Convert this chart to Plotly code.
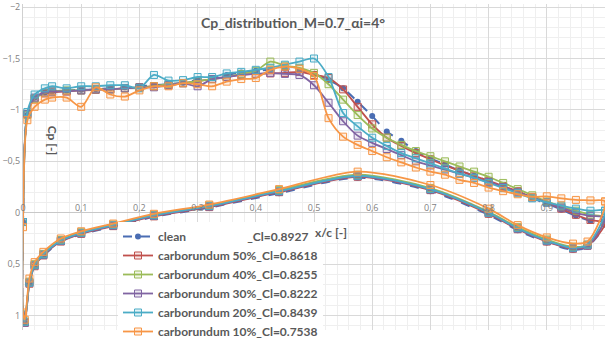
import plotly.graph_objects as go

# ---------------- data ----------------
title = "Cp_distribution_M=0.7_\u03b1i=4\u00b0"

x_upper = [0.0, 0.0075, 0.02, 0.0375, 0.05, 0.075, 0.1, 0.125, 0.15, 0.175, 0.2, 0.225,
           0.25, 0.275, 0.3, 0.325, 0.35, 0.375, 0.4, 0.425, 0.45, 0.475, 0.5, 0.525,
           0.55, 0.575, 0.6, 0.625, 0.65, 0.675, 0.7, 0.725, 0.75, 0.775, 0.8, 0.825,
           0.85, 0.875, 0.9, 0.925, 0.95, 0.975, 1.0]
x_lower = [0.0, 0.003, 0.011, 0.02, 0.035, 0.065, 0.1, 0.155, 0.225, 0.32, 0.44, 0.575,
           0.7, 0.8, 0.85, 0.9, 0.945, 0.97, 1.0]

names = ["clean                     _Cl=0.8927",
         "carborundum 50%_Cl=0.8618",
         "carborundum 40%_Cl=0.8255",
         "carborundum 30%_Cl=0.8222",
         "carborundum 20%_Cl=0.8439",
         "carborundum 10%_Cl=0.7538"]

cp_upper_clean = [0.09, -0.95, -1.12, -1.17, -1.18, -1.19, -1.195, -1.20, -1.21, -1.22, -1.23, -1.24,
                  -1.25, -1.265, -1.29, -1.31, -1.34, -1.365, -1.38, -1.39, -1.40, -1.38, -1.35, -1.29,
                  -1.21, -1.08, -0.94, -0.79, -0.70, -0.60, -0.53, -0.47, -0.41, -0.36, -0.31, -0.26,
                  -0.20, -0.14, -0.09, -0.03, 0.03, 0.08, 0.10]
cp_upper_50 = [0.09, -0.96, -1.11, -1.16, -1.17, -1.18, -1.19, -1.195, -1.20, -1.21, -1.22, -1.23,
               -1.24, -1.26, -1.28, -1.30, -1.32, -1.34, -1.35, -1.355, -1.36, -1.37, -1.34, -1.31,
               -1.20, -1.03, -0.86, -0.73, -0.65, -0.58, -0.52, -0.46, -0.41, -0.36, -0.31, -0.26,
               -0.21, -0.15, -0.10, -0.04, 0.02, 0.07, 0.10]
cp_upper_40 = [0.09, -0.95, -1.11, -1.165, -1.18, -1.19, -1.19, -1.20, -1.20, -1.21, -1.22, -1.23,
               -1.25, -1.26, -1.28, -1.30, -1.32, -1.35, -1.38, -1.47, -1.43, -1.41, -1.36, -1.25,
               -1.10, -0.95, -0.82, -0.73, -0.66, -0.60, -0.55, -0.50, -0.45, -0.40, -0.35, -0.29,
               -0.23, -0.17, -0.11, -0.06, -0.02, 0.02, 0.05]
cp_upper_30 = [0.09, -0.96, -1.12, -1.17, -1.18, -1.18, -1.19, -1.20, -1.20, -1.21, -1.22, -1.22,
               -1.24, -1.26, -1.23, -1.30, -1.32, -1.34, -1.35, -1.36, -1.35, -1.34, -1.24, -1.07,
               -0.89, -0.75, -0.68, -0.62, -0.56, -0.50, -0.46, -0.42, -0.38, -0.34, -0.30, -0.25,
               -0.20, -0.15, -0.10, -0.05, 0.0, 0.03, 0.05]
cp_upper_20 = [0.09, -0.98, -1.15, -1.21, -1.23, -1.21, -1.23, -1.23, -1.24, -1.24, -1.21, -1.34,
               -1.285, -1.29, -1.32, -1.32, -1.355, -1.37, -1.39, -1.41, -1.44, -1.47, -1.50, -1.32,
               -0.97, -0.84, -0.73, -0.65, -0.58, -0.53, -0.48, -0.43, -0.38, -0.34, -0.29, -0.24,
               -0.19, -0.14, -0.10, -0.07, -0.04, -0.02, -0.02]
cp_upper_10 = [0.14, -0.90, -1.03, -1.10, -1.12, -1.12, -1.03, -1.22, -1.15, -1.13, -1.19, -1.23,
               -1.23, -1.26, -1.25, -1.23, -1.275, -1.30, -1.31, -1.39, -1.42, -1.40, -1.33, -0.92,
               -0.74, -0.66, -0.60, -0.54, -0.49, -0.44, -0.40, -0.37, -0.32, -0.29, -0.245, -0.21,
               -0.18, -0.155, -0.16, -0.14, -0.125, -0.12, -0.11]

cp_lower_clean = [1.0, 1.07, 0.69, 0.52, 0.42, 0.28, 0.21, 0.135, 0.04, -0.05, -0.19, -0.34,
                  -0.21, 0.02, 0.17, 0.29, 0.36, 0.33, 0.10]
cp_lower_50 = [1.0, 1.07, 0.69, 0.52, 0.415, 0.28, 0.205, 0.13, 0.035, -0.055, -0.20, -0.35,
               -0.22, 0.01, 0.16, 0.28, 0.35, 0.32, 0.10]
cp_lower_40 = [0.99, 1.06, 0.67, 0.50, 0.40, 0.265, 0.19, 0.115, 0.02, -0.07, -0.22, -0.37,
               -0.24, -0.01, 0.14, 0.26, 0.33, 0.31, 0.05]
cp_lower_30 = [1.0, 1.07, 0.68, 0.51, 0.41, 0.275, 0.20, 0.125, 0.03, -0.06, -0.205, -0.355,
               -0.225, 0.0, 0.155, 0.275, 0.345, 0.32, 0.05]
cp_lower_20 = [0.99, 1.06, 0.68, 0.51, 0.405, 0.27, 0.195, 0.12, 0.025, -0.065, -0.21, -0.36,
               -0.23, 0.0, 0.15, 0.27, 0.34, 0.31, -0.02]
cp_lower_10 = [0.97, 1.04, 0.64, 0.48, 0.38, 0.25, 0.18, 0.105, 0.01, -0.08, -0.23, -0.40,
               -0.27, -0.04, 0.12, 0.24, 0.30, 0.28, -0.11]

upper_sets = [cp_upper_clean, cp_upper_50, cp_upper_40, cp_upper_30, cp_upper_20, cp_upper_10]
lower_sets = [cp_lower_clean, cp_lower_50, cp_lower_40, cp_lower_30, cp_lower_20, cp_lower_10]

colors = ["#4A6DB3", "#C0504D", "#9BBB59", "#8064A2", "#4BACC6", "#F79646"]
fills = ["#4A6DB3", "rgba(192,80,77,0.15)", "rgba(155,187,89,0.15)", "rgba(128,100,162,0.15)",
         "rgba(75,172,198,0.15)", "rgba(247,150,70,0.15)"]

# ---------------- figure ----------------
fig = go.Figure()
for i in range(6):
    xs = list(reversed(x_upper)) + x_lower
    ys = list(reversed(upper_sets[i])) + lower_sets[i]
    if i == 0:
        line = dict(color=colors[i], width=2, dash="dash", shape="spline", smoothing=0.8)
        marker = dict(symbol="circle", size=6, color=colors[i])
    else:
        line = dict(color=colors[i], width=1.8, shape="spline", smoothing=0.8)
        marker = dict(symbol="square", size=7, color=fills[i],
                      line=dict(color=colors[i], width=1))
    fig.add_trace(go.Scatter(x=xs, y=ys, mode="lines+markers",
                             name=names[i].replace(" ", "\u00a0"),
                             line=line, marker=marker))

grid_major = "#D9D9D9"
grid_minor = "#EFEFEF"
tick_font = dict(family="Open Sans", size=9, color="#7F7F7F")

Y_TOP, Y_BOT = -2.03, 1.14
plot_h = 340 - 4 - 10

fig.update_layout(
    width=605, height=340,
    margin=dict(l=23, r=0, t=4, b=10, autoexpand=False),
    paper_bgcolor="white", plot_bgcolor="white",
    separators=", ",
    showlegend=True,
    legend=dict(x=(118 - 23) / 582, y=-(346 - 330) / plot_h, xanchor="left", yanchor="bottom",
                bgcolor="white", borderwidth=0,
                font=dict(family="Lato", size=12, color="#595959", weight="bold"),
                itemwidth=30, tracegroupgap=0),
    xaxis=dict(range=[0, 1.0], dtick=0.1, tick0=0, showgrid=True, gridcolor=grid_major,
               gridwidth=1, zeroline=False, showline=False,
               anchor="free", position=Y_BOT / (Y_BOT - Y_TOP), side="top",
               ticks="", tickfont=tick_font,
               minor=dict(dtick=0.02, showgrid=True, gridcolor=grid_minor, gridwidth=1)),
    yaxis=dict(range=[Y_BOT, Y_TOP], dtick=0.5, tick0=0, showgrid=True, gridcolor=grid_major,
               gridwidth=1, zeroline=True, zerolinecolor="#C8C8C8", zerolinewidth=1,
               showline=True, linecolor="#D0D0D0", ticks="", tickfont=tick_font,
               ticklabeloverflow="allow",
               minor=dict(dtick=0.1, showgrid=True, gridcolor=grid_minor, gridwidth=1)),
    annotations=[
        dict(text=title, x=(293 - 23) / 582, y=1 - (22 - 4) / plot_h, xref="paper", yref="paper",
             xanchor="center", yanchor="middle", showarrow=False,
             font=dict(family="Lato", size=14, color="#595959", weight="bold")),
        dict(text="Cp [-]", x=0.05, y=-0.7, xref="x", yref="y", showarrow=False, textangle=90,
             font=dict(family="Lato", size=12, color="#595959", weight="bold")),
        dict(text="x/c [-]", x=0.53, y=0.19, xref="x", yref="y", showarrow=False,
             font=dict(family="Lato", size=12, color="#595959", weight="bold")),
    ],
)

fig.write_html("out.html")
